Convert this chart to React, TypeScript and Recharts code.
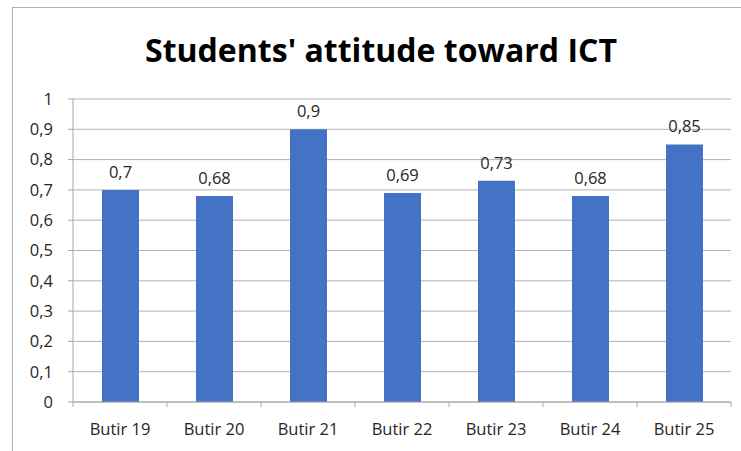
import { BarChart, Bar, XAxis, YAxis, CartesianGrid, LabelList } from "recharts"

const categories = ["Butir 19", "Butir 20", "Butir 21", "Butir 22", "Butir 23", "Butir 24", "Butir 25"]
const scores = [0.7, 0.68, 0.9, 0.69, 0.73, 0.68, 0.85]
const yTicks = [0, 0.1, 0.2, 0.3, 0.4, 0.5, 0.6, 0.7, 0.8, 0.9, 1]
const title = "Students' attitude toward ICT"

const W = 741
const H = 451
const margin = { top: 99, right: 10, left: 0, bottom: 0 }
const yAxisWidth = 73
const xAxisHeight = 49
const halfBand = (W - margin.left - margin.right - yAxisWidth) / categories.length / 2

const fmt = (v: number) => String(v).replace(".", ",")
const font = "'Open Sans', 'Noto Sans', sans-serif"

function XTick(props: any) {
  const { x, y, payload, index } = props
  const last = index === categories.length - 1
  return (
    <g>
      <line x1={x - halfBand} y1={y} x2={x - halfBand} y2={y + 5} stroke="#a6a6a6" />
      {last && <line x1={x + halfBand} y1={y} x2={x + halfBand} y2={y + 5} stroke="#a6a6a6" />}
      <text x={x} y={y + 33} textAnchor="middle" fontSize={16.5} fill="#262626" fontFamily={font}>
        {payload.value}
      </text>
    </g>
  )
}

export default function App() {
  const data = categories.map((name, i) => ({ name, value: scores[i] }))
  return (
    <div style={{ position: "absolute", left: 0, top: 0, width: W, height: H, background: "#fff", overflow: "hidden" }}>
      <div style={{ position: "absolute", left: 12, top: 7, width: W, height: H, borderLeft: "1px solid #b0b0b0", borderTop: "1px solid #b0b0b0" }} />
      <BarChart width={W} height={H} data={data} margin={margin} style={{ position: "absolute", left: 0, top: 0 }}>
        <CartesianGrid vertical={false} stroke="#b3b3b3" />
        <XAxis
          dataKey="name"
          height={xAxisHeight}
          stroke="#a6a6a6"
          tickLine={false}
          tickSize={0}
          tickMargin={0}
          interval={0}
          tick={<XTick />}
        />
        <YAxis
          width={yAxisWidth}
          domain={[0, 1]}
          ticks={yTicks}
          tickFormatter={fmt}
          stroke="#a6a6a6"
          tickSize={5}
          tickMargin={15}
          tick={{ fontSize: 16.5, fill: "#262626", fontFamily: font }}
        />
        <Bar dataKey="value" fill="#4472c4" barSize={37} isAnimationActive={false}>
          <LabelList
            dataKey="value"
            position="top"
            offset={12}
            formatter={(v: any) => fmt(v)}
            style={{ fontSize: 16.5, fill: "#262626", fontFamily: font }}
          />
        </Bar>
      </BarChart>
      <svg width={W} height={H} style={{ position: "absolute", left: 0, top: 0, pointerEvents: "none" }}>
        <text
          x={381}
          y={62}
          textAnchor="middle"
          fontSize={33}
          fontWeight="bold"
          fontFamily={font}
          fill="#000"
          textLength={472}
          lengthAdjust="spacingAndGlyphs"
        >
          {title}
        </text>
      </svg>
    </div>
  )
}
